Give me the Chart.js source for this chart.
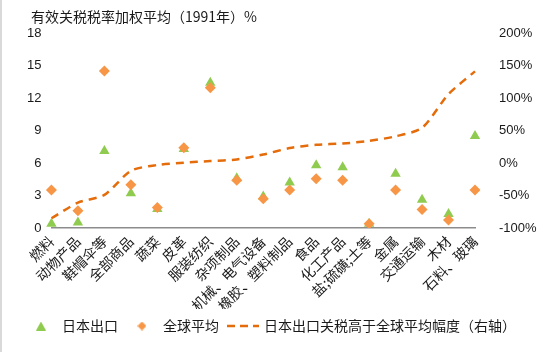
<!DOCTYPE html>
<html>
<head>
<meta charset="utf-8">
<script src="https://cdn.jsdelivr.net/npm/chart.js@4.4.1/dist/chart.umd.min.js"></script>
<style>
  html, body { margin: 0; padding: 0; background: #fff; }
  #wrap { position: relative; width: 550px; height: 352px; }
  #edge { position: absolute; left: 0; top: 0; width: 2px; height: 352px; background: #d9d9d9; }
</style>
</head>
<body>
<div id="wrap">
  <canvas id="myChart" width="550" height="352"></canvas>
  <div id="edge"></div>
</div>
<script>
"use strict";

const categories = ["燃料", "动物产品", "鞋帽伞等", "全部商品", "蔬菜", "皮革", "服装纺织", "杂项制品",
  "机械、电气设备", "橡胶、塑料制品", "食品", "化工产品", "盐;硫磺;土等", "金属", "交通运输", "木材", "石料、玻璃"];
const japanExport = [0.4, 0.5, 7.1, 3.2, 1.75, 7.3, 13.4, 4.6, 2.9, 4.2, 5.8, 5.6, 0.4, 5.0, 2.6, 1.3, 8.5];
const worldAverage = [3.5, 1.6, 14.5, 4.0, 1.9, 7.4, 12.95, 4.4, 2.7, 3.5, 4.55, 4.4, 0.4, 3.5, 1.7, 0.75, 3.5];
const premiumPct = [-85, -61, -49, -12, -3, 0.5, 3, 5.5, 13, 23, 28, 30, 34, 41, 54, 106, 141];
const leftTicks = [0, 3, 6, 9, 12, 15, 18];
const rightTicks = [-100, -50, 0, 50, 100, 150, 200];

const GREEN = "#8fcb4f";
const ORANGE = "#f79646";
const DARK_ORANGE = "#e46c0a";
const TEXT = "#1a1a1a";
const CJK = "'Noto Sans CJK SC', 'Liberation Sans', sans-serif";
const NUM = "'Liberation Sans', Arial, sans-serif";

// small canvases used as legend icons
const makeIcon = function (w, h, draw) {
  const c = document.createElement("canvas");
  c.width = w;
  c.height = h;
  draw(c.getContext("2d"));
  return c;
};
const triIcon = makeIcon(10, 9, (g) => {
  g.fillStyle = GREEN;
  g.beginPath();
  g.moveTo(5, 0);
  g.lineTo(10, 9);
  g.lineTo(0, 9);
  g.closePath();
  g.fill();
});
const diaIcon = makeIcon(9, 9, (g) => {
  g.fillStyle = ORANGE;
  g.beginPath();
  g.moveTo(4.5, 0);
  g.lineTo(9, 4.5);
  g.lineTo(4.5, 9);
  g.lineTo(0, 4.5);
  g.closePath();
  g.fill();
});
const dashIcon = makeIcon(32, 4, (g) => {
  g.strokeStyle = DARK_ORANGE;
  g.lineWidth = 2.5;
  g.setLineDash([8, 5]);
  g.beginPath();
  g.moveTo(0, 2);
  g.lineTo(32, 2);
  g.stroke();
});
const icons = [triIcon, diaIcon, dashIcon];

const titlePlugin = {
  id: "topTitle",
  afterDraw(chart) {
    const g = chart.ctx;
    g.save();
    g.fillStyle = TEXT;
    g.font = "14px " + CJK;
    g.textBaseline = "middle";
    g.fillText("有效关税税率加权平均（1991年）%", 31, 17);
    g.restore();
  },
};

const ctx = document.getElementById("myChart").getContext("2d");
const chart = new Chart(ctx, {
  type: "line",
  data: {
    labels: categories,
    datasets: [
      {
        label: "日本出口",
        data: japanExport,
        showLine: false,
        pointStyle: "triangle",
        pointRadius: 6,
        pointBackgroundColor: GREEN,
        pointBorderColor: GREEN,
        pointBorderWidth: 0,
        yAxisID: "y",
        order: 2,
      },
      {
        label: "全球平均",
        data: worldAverage,
        showLine: false,
        pointStyle: "rectRot",
        pointRadius: 5.5,
        pointBackgroundColor: ORANGE,
        pointBorderColor: ORANGE,
        pointBorderWidth: 0,
        yAxisID: "y",
        order: 1,
      },
      {
        label: "日本出口关税高于全球平均幅度（右轴）",
        data: premiumPct,
        borderColor: DARK_ORANGE,
        borderWidth: 2.5,
        borderDash: [8, 6],
        pointRadius: 0,
        tension: 0.25,
        fill: false,
        yAxisID: "y1",
        order: 3,
      },
    ],
  },
  options: {
    responsive: false,
    animation: false,
    layout: { padding: { left: 17, right: 3, top: 33, bottom: 9 } },
    plugins: {
      tooltip: { enabled: false },
      legend: {
        position: "bottom",
        align: "start",
        labels: {
          usePointStyle: true,
          pointStyleWidth: 28,
          boxHeight: 9,
          padding: 10,
          color: TEXT,
          font: { size: 14, family: CJK },
          generateLabels: (c) =>
            c.data.datasets.map((ds, i) => ({
              text: ds.label,
              datasetIndex: i,
              pointStyle: icons[i],
              fontColor: TEXT,
              hidden: false,
              lineWidth: 0,
            })),
          sort: (a, b) => a.datasetIndex - b.datasetIndex,
        },
      },
    },
    scales: {
      x: {
        grid: { display: false, drawTicks: false },
        border: { display: true, color: "#8c8c8c", width: 1.5 },
        ticks: {
          color: TEXT,
          font: { size: 14, family: CJK },
          minRotation: 45,
          maxRotation: 45,
          autoSkip: false,
          padding: 5,
        },
        afterFit: (s) => { s.height = 81; },
      },
      y: {
        position: "left",
        min: 0,
        max: 18,
        afterBuildTicks: (s) => { s.ticks = leftTicks.map((v) => ({ value: v })); },
        grid: { display: false, drawTicks: false },
        border: { display: false },
        ticks: { color: TEXT, font: { size: 13, family: NUM }, padding: 10 },
      },
      y1: {
        position: "right",
        min: -100,
        max: 200,
        afterBuildTicks: (s) => { s.ticks = rightTicks.map((v) => ({ value: v })); },
        afterFit: (s) => { s.width = 72; },
        grid: { display: false, drawTicks: false },
        border: { display: false },
        ticks: {
          color: TEXT,
          font: { size: 13, family: NUM },
          padding: 24,
          callback: (v) => v + "%",
        },
      },
    },
  },
  plugins: [titlePlugin],
});
</script>
</body>
</html>
